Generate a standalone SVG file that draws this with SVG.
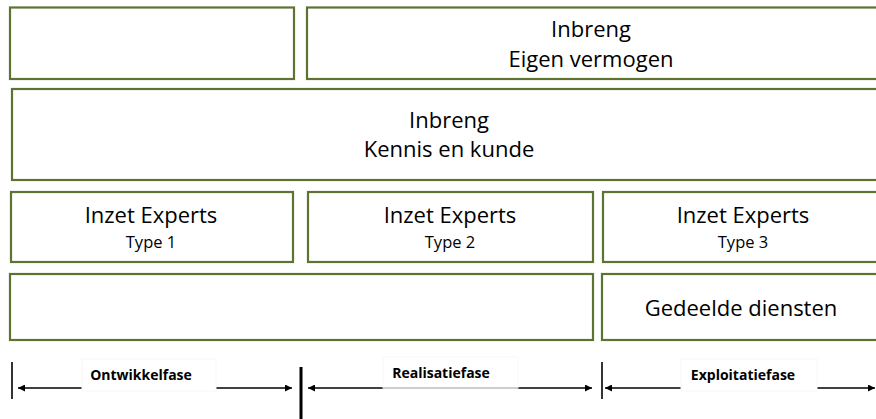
<svg xmlns="http://www.w3.org/2000/svg" width="876" height="419" viewBox="0 0 876 419">
  <style>
    .box { fill: #ffffff; stroke: #5e7332; stroke-width: 2.2; }
    .t { font-family: "Open Sans", "Liberation Sans", sans-serif; font-size: 22px; fill: #000000; text-anchor: middle; }
    .s { font-family: "Open Sans", "Liberation Sans", sans-serif; font-size: 16.5px; fill: #000000; text-anchor: middle; }
    .ph { font-family: "Open Sans", "Liberation Sans", sans-serif; font-size: 14px; font-weight: bold; fill: #000000; text-anchor: middle; }
    .lbl { fill: #ffffff; stroke: #f8f8f8; stroke-width: 1; }
    .arr { stroke: #000000; stroke-width: 1.5; fill: none; }
    .tick { stroke: #000000; stroke-width: 1.6; }
  </style>
  <defs>
    <marker id="head" viewBox="0 0 10 10" refX="10" refY="5" markerWidth="9" markerHeight="7" markerUnits="userSpaceOnUse" orient="auto">
      <path d="M0,0 L10,5 L0,10 Z" fill="#000000"/>
    </marker>
  </defs>

  <rect width="876" height="419" fill="#ffffff"/>

  <!-- row 1 -->
  <g id="top-empty">
    <rect class="box" x="10" y="7.5" width="284" height="71.5"/>
  </g>
  <g id="eigen-vermogen">
    <rect class="box" x="307" y="7.5" width="580" height="71.5"/>
    <text class="t" x="591" y="37">Inbreng</text>
    <text class="t" x="591" y="67">Eigen vermogen</text>
  </g>

  <!-- row 2 -->
  <g id="kennis-en-kunde">
    <rect class="box" x="12" y="89" width="875" height="91"/>
    <text class="t" x="449" y="128">Inbreng</text>
    <text class="t" x="449" y="157">Kennis en kunde</text>
  </g>

  <!-- row 3 -->
  <g id="experts-type1">
    <rect class="box" x="11" y="192" width="282" height="70"/>
    <text class="t" x="151" y="223">Inzet Experts</text>
    <text class="s" x="151" y="248">Type 1</text>
  </g>
  <g id="experts-type2">
    <rect class="box" x="308" y="192" width="285" height="70"/>
    <text class="t" x="450" y="223">Inzet Experts</text>
    <text class="s" x="450" y="248">Type 2</text>
  </g>
  <g id="experts-type3">
    <rect class="box" x="603" y="192" width="284" height="70"/>
    <text class="t" x="743" y="223">Inzet Experts</text>
    <text class="s" x="743" y="248">Type 3</text>
  </g>

  <!-- row 4 -->
  <g id="bottom-empty">
    <rect class="box" x="10" y="274" width="583" height="66"/>
  </g>
  <g id="gedeelde-diensten">
    <rect class="box" x="602" y="274" width="285" height="66"/>
    <text class="t" x="741" y="316">Gedeelde diensten</text>
  </g>

  <!-- phase timeline -->
  <g id="connectors">
    <line class="tick" x1="12" y1="362" x2="12" y2="399"/>
    <line x1="301" y1="367" x2="301" y2="419" stroke="#000000" stroke-width="3"/>
    <line class="tick" x1="602" y1="362" x2="602" y2="399"/>

    <line class="arr" x1="82" y1="388" x2="18" y2="388" marker-end="url(#head)"/>
    <line class="arr" x1="216" y1="388" x2="292" y2="388" marker-end="url(#head)"/>

    <line class="arr" x1="383" y1="388" x2="308" y2="388" marker-end="url(#head)"/>
    <line class="arr" x1="518" y1="388" x2="592" y2="388" marker-end="url(#head)"/>

    <line class="arr" x1="681" y1="388" x2="605" y2="388" marker-end="url(#head)"/>
    <line class="arr" x1="817" y1="388" x2="875" y2="388" marker-end="url(#head)"/>
  </g>

  <g id="phase-ontwikkel">
    <rect class="lbl" x="82" y="359" width="134" height="32"/>
    <text class="ph" x="141" y="380">Ontwikkelfase</text>
  </g>
  <g id="phase-realisatie">
    <rect class="lbl" x="383" y="357" width="135" height="31"/>
    <line x1="383" y1="388" x2="518" y2="388" stroke="#a0a0a0" stroke-width="1"/>
    <text class="ph" x="441" y="378">Realisatiefase</text>
  </g>
  <g id="phase-exploitatie">
    <rect class="lbl" x="681" y="359" width="136" height="32"/>
    <text class="ph" x="743" y="380">Exploitatiefase</text>
  </g>
</svg>
